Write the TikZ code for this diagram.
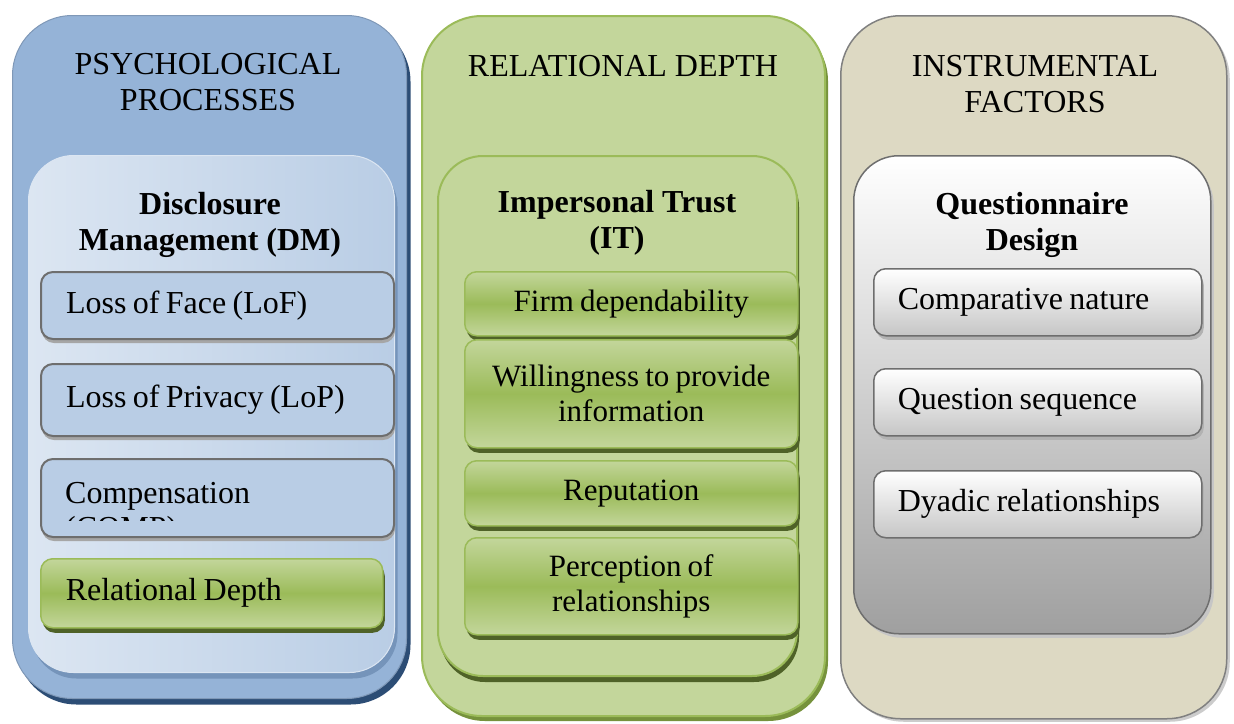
\documentclass[tikz,border=0pt]{standalone}
\usepackage{fontspec}
\setmainfont{Liberation Serif}
\newfontfamily\itemfont{Liberation Serif}[WordSpace=0.8]
\usetikzlibrary{shadows}

\definecolor{blFill}{HTML}{95B3D7}
\definecolor{blLight}{HTML}{DCE6F2}
\definecolor{blMid}{HTML}{B9CDE5}
\definecolor{blDark}{HTML}{2C4D75}
\definecolor{grLight}{HTML}{C3D69B}
\definecolor{grMid}{HTML}{9BBB59}
\definecolor{grDark}{HTML}{4F6228}
\definecolor{grShade}{HTML}{76923C}
\definecolor{beige}{HTML}{DDD9C3}
\definecolor{edgeGray}{HTML}{6E6E6E}

\begin{document}
\begin{tikzpicture}[x=1pt,y=-1pt,line cap=round,
	every node/.style={font=\fontsize{32}{36}\selectfont,text=black},
	outerbox/.style={rounded corners=60pt,anchor=north west,inner sep=0pt},
	innerbox/.style={rounded corners=45pt,anchor=north west,inner sep=0pt},
	itembox/.style={rounded corners=12pt,anchor=north west,inner ysep=0pt,
		font=\itemfont\fontsize{31}{35}\selectfont},
	lefttext/.style={align=left,font=\itemfont\fontsize{32}{35}\selectfont,
		execute at begin node={\spaceskip=0pt\xspaceskip=0pt}},
	headtext/.style={anchor=north,inner sep=0pt,align=center},
	bluecol/.style={outerbox,fill=blFill,draw=blFill!85!black,line width=1pt,
		drop shadow={shadow xshift=4pt,shadow yshift=-6pt,fill=blDark,opacity=1}},
	blueinner/.style={innerbox,left color=blLight,right color=blMid,draw=blLight,line width=1pt,
		drop shadow={shadow xshift=3pt,shadow yshift=-6pt,fill=blFill!70!blDark,opacity=1}},
	blueitem/.style={itembox,fill=blMid,draw=edgeGray,line width=2pt,lefttext,inner xsep=25pt,
		drop shadow={shadow xshift=1pt,shadow yshift=-4pt,fill=gray!70,opacity=1}},
	greencol/.style={outerbox,fill=grLight,draw=grMid,line width=2pt,
		drop shadow={shadow xshift=3pt,shadow yshift=-5pt,fill=grShade,opacity=1}},
	greeninner/.style={innerbox,fill=grLight,draw=grMid,line width=2pt,
		drop shadow={shadow xshift=2pt,shadow yshift=-6pt,fill=grDark,opacity=1}},
	greenitem/.style={itembox,top color=grLight,bottom color=grLight,middle color=grMid,
		draw=grMid,line width=1.5pt,align=center,
		drop shadow={shadow xshift=2pt,shadow yshift=-5pt,fill=grDark,opacity=1}},
	beigecol/.style={outerbox,fill=beige,draw=gray,line width=1.5pt,
		drop shadow={shadow xshift=3pt,shadow yshift=-3pt,fill=gray!40,opacity=1}},
	grayinner/.style={innerbox,top color=white,bottom color=gray!75,draw=edgeGray,line width=1.5pt,
		drop shadow={shadow xshift=3pt,shadow yshift=-4pt,fill=gray!45,opacity=1}},
	grayitem/.style={itembox,top color=white,bottom color=gray!45,draw=edgeGray,line width=1.5pt,
		lefttext,inner xsep=24pt,text width=280pt,
		drop shadow={shadow xshift=2pt,shadow yshift=-4pt,fill=gray!60,opacity=1}}]
	\useasboundingbox (0,0) rectangle (1234,723);
	% psychological processes
	\node[bluecol,minimum width=394pt,minimum height=683pt] (ppbox) at (12,15) {};
	\node[headtext] (pptitle) at (208,53) {PSYCHOLOGICAL\\PROCESSES};
	\node[blueinner,minimum width=366pt,minimum height=517pt] (dmbox) at (28,155) {};
	\node[headtext,font=\fontsize{32}{36}\selectfont\bfseries] (dmtitle) at (210,192) {Disclosure\\Management (DM)};
	\node[blueitem,text width=303pt,minimum height=67pt] (lof) at (40,271) {Loss of Face (LoF)};
	\node[blueitem,text width=303pt,minimum height=72pt] (lop) at (40,363) {Loss of Privacy (LoP)};
	\node[blueitem,text width=303pt,minimum height=78pt] (comp) at (40,458) {};
	\begin{scope}
		\clip (40,458) rectangle (393,520);
		\node[anchor=north west,inner sep=0pt,lefttext] (comptext) at (65,482) {Compensation\\(COMP)};
	\end{scope}
	\node[greenitem,lefttext,inner xsep=25pt,text width=292pt,minimum height=69pt] (rdep) at (40,558) {Relational Depth};
	% relational depth
	\node[greencol,minimum width=403pt,minimum height=700pt] (rdbox) at (421,15) {};
	\node[headtext] (rdtitle) at (623,55) {RELATIONAL DEPTH};
	\node[greeninner,minimum width=359pt,minimum height=520pt] (itbox) at (437,155) {};
	\node[headtext,font=\fontsize{32}{36}\selectfont\bfseries] (ittitle) at (617,190) {Impersonal Trust\\(IT)};
	\node[greenitem,minimum width=333pt,minimum height=64pt] (firm) at (464,271) {Firm dependability};
	\node[greenitem,minimum width=333pt,minimum height=108pt] (will) at (464,339) {Willingness to provide\\information};
	\node[greenitem,minimum width=333pt,minimum height=65pt] (rep) at (464,460) {Reputation};
	\node[greenitem,minimum width=333pt,minimum height=97pt] (perc) at (464,537) {Perception of\\relationships};
	% instrumental factors
	\node[beigecol,minimum width=386pt,minimum height=703pt] (ifbox) at (840,15) {};
	\node[headtext] (iftitle) at (1035,55) {INSTRUMENTAL\\FACTORS};
	\node[grayinner,minimum width=357pt,minimum height=478pt] (qdbox) at (853,155) {};
	\node[headtext,font=\fontsize{32}{36}\selectfont\bfseries] (qdtitle) at (1032,192) {Questionnaire\\Design};
	\node[grayitem,minimum height=67pt] (cnat) at (873,268) {Comparative nature};
	\node[grayitem,minimum height=67pt] (qseq) at (873,368) {Question sequence};
	\node[grayitem,minimum height=67pt] (dyad) at (873,470) {Dyadic relationships};
\end{tikzpicture}
\end{document}
